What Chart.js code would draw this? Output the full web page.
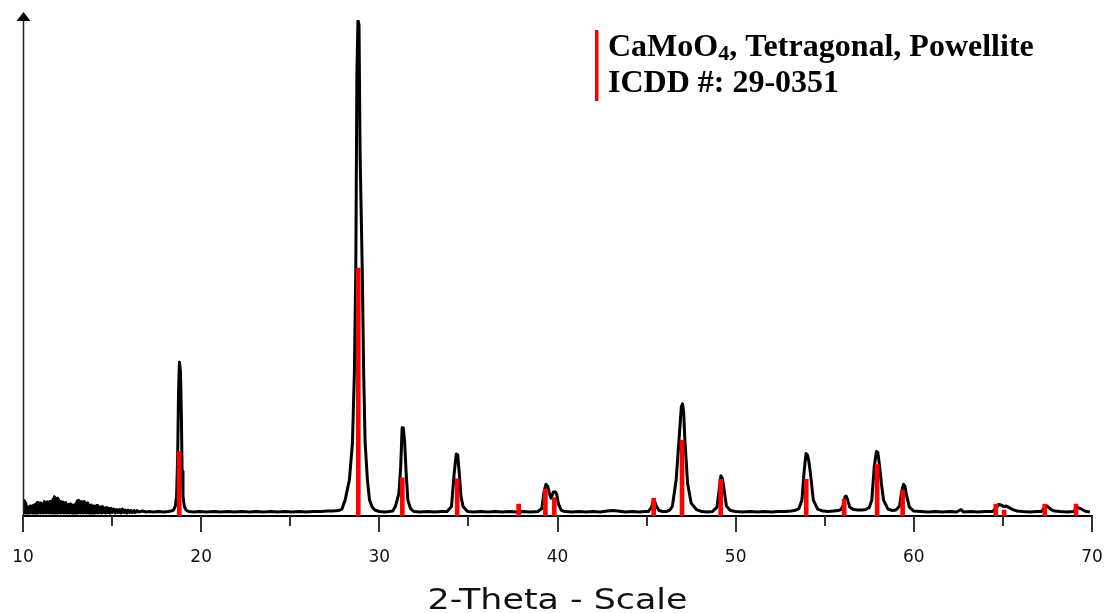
<!DOCTYPE html>
<html>
<head>
<meta charset="utf-8">
<title>CaMoO4 XRD pattern</title>
<script src="https://cdn.jsdelivr.net/npm/chart.js@4.4.1/dist/chart.umd.min.js"></script>
<style>
  html, body { margin: 0; padding: 0; background: #ffffff; overflow: hidden; }
  #wrap { width: 1106px; height: 613px; position: relative; }
</style>
</head>
<body>
<div id="wrap"><canvas id="xrd"></canvas></div>
<script>
// Measured diffraction scan: [2-theta (deg), relative intensity (%)]
const scanPoints = [
  [10.00,3.0],[10.04,0.7],[10.08,3.1],[10.12,0.6],[10.16,2.6],[10.20,0.7],[10.24,1.8],[10.28,0.6],
  [10.32,1.6],[10.36,0.6],[10.40,2.0],[10.44,0.7],[10.48,1.5],[10.52,0.6],[10.56,2.1],[10.60,0.7],[10.64,2.2],[10.68,0.6],
  [10.72,2.4],[10.76,0.7],[10.80,2.7],[10.84,0.6],[10.88,2.3],[10.92,0.7],[10.96,2.6],[11.00,0.6],[11.04,2.5],[11.08,0.7],[11.12,2.2],
  [11.16,0.6],[11.20,2.9],[11.24,0.7],[11.28,2.4],[11.32,0.6],[11.36,2.8],[11.40,0.7],[11.44,2.6],[11.48,0.6],[11.52,2.9],[11.56,0.7],[11.60,2.2],
  [11.64,0.6],[11.68,3.4],[11.72,0.7],[11.76,3.9],[11.80,0.6],[11.84,3.5],
  [11.88,0.7],[11.92,3.6],[11.96,0.6],[12.00,3.3],[12.04,0.7],[12.08,2.9],[12.12,0.6],
  [12.16,2.4],[12.20,0.7],[12.24,2.8],[12.28,0.6],[12.32,2.5],[12.36,0.7],[12.40,2.7],[12.44,0.6],[12.48,2.2],
  [12.52,0.7],[12.56,2.3],[12.60,0.6],[12.64,2.4],[12.68,0.7],[12.72,2.0],[12.76,0.6],[12.80,2.2],
  [12.84,0.7],[12.88,2.1],[12.92,0.6],[12.96,2.5],[13.00,0.7],[13.04,3.0],[13.08,0.6],[13.12,3.2],[13.16,0.7],[13.20,2.8],[13.24,0.6],[13.28,2.9],
  [13.32,0.7],[13.36,2.7],[13.40,0.6],[13.44,2.9],[13.48,0.7],[13.52,2.4],[13.56,0.6],[13.60,2.6],[13.64,0.7],[13.68,2.2],
  [13.72,0.6],[13.76,2.1],[13.80,0.7],[13.84,2.2],[13.88,0.6],[13.92,1.9],[13.96,0.7],[14.00,2.0],[14.04,0.6],[14.08,1.8],
  [14.12,0.7],[14.16,2.1],[14.20,0.6],[14.24,1.7],[14.28,0.7],
  [14.34,1.8],[14.40,0.6],[14.46,1.9],[14.52,0.7],[14.58,1.6],[14.64,0.6],[14.70,1.7],[14.76,0.7],[14.82,1.5],[14.88,0.6],
  [14.95,1.5],[15.02,0.7],[15.10,1.4],[15.18,0.6],[15.26,1.3],[15.34,0.7],[15.42,1.3],[15.50,0.6],[15.58,1.4],[15.66,0.7],
  [15.74,1.2],[15.82,0.6],[15.90,1.2],[15.98,0.7],[16.06,1.1],[16.14,0.7],[16.22,1.1],[16.30,0.7],[16.40,1.1],[16.50,0.8],
  [16.70,1.0],[16.90,0.8],[17.10,0.9],
  [17.30,0.8],[17.60,0.9],[17.90,0.8],[18.15,0.9],[18.30,1.0],
  [18.45,1.2],[18.55,2.0],[18.62,4.0],[18.68,12],[18.73,25],[18.78,31],[18.84,29],[18.89,20],[18.93,9],[18.98,4],[19.05,2.0],[19.15,1.2],[19.30,0.9],
  [19.60,0.8],[19.90,0.9],[20.30,0.8],[20.70,0.9],[21.10,0.8],[21.50,0.9],[21.90,0.8],[22.30,0.9],[22.70,0.8],[23.10,0.9],
  [23.50,0.8],[23.90,0.9],[24.30,0.8],[24.70,0.9],[25.10,0.8],[25.50,0.9],[25.90,0.8],[26.30,0.9],[26.70,0.9],[27.10,1.0],
  [27.40,1.0],[27.70,1.1],[27.90,1.4],[28.08,3.2],[28.32,7.3],[28.49,14.7],[28.60,28.8],[28.68,50],[28.74,89],[28.80,100],
  [28.86,99],[28.92,73],[29.04,50],[29.12,29],[29.20,15],[29.33,7.3],[29.45,3.2],[29.60,1.8],[29.75,1.2],[30.00,0.9],
  [30.30,0.8],[30.55,0.9],
  [30.75,1.0],[30.90,1.9],[31.10,4.6],[31.20,10],[31.28,17.8],[31.34,17.8],[31.42,15],[31.50,9],[31.60,3.2],[31.75,1.5],[31.95,0.9],
  [32.30,0.8],[32.70,0.9],[33.10,0.8],[33.50,0.9],[33.80,0.9],
  [34.05,1.9],[34.20,8.6],[34.32,12.5],[34.40,12.3],[34.50,8],[34.58,4],[34.70,1.9],[34.95,0.9],
  [35.30,0.8],[35.70,0.9],[36.10,0.8],[36.50,0.9],[36.90,0.8],[37.30,0.9],[37.70,0.8],[38.10,0.9],[38.50,0.8],[38.90,0.9],
  [39.12,1.5],[39.25,5],[39.35,6.4],[39.45,6.0],[39.55,4.5],[39.64,3.6],[39.76,4.8],[39.86,4.9],[39.95,4.5],[40.05,2.5],[40.20,1.2],[40.40,0.9],
  [40.80,0.8],[41.20,0.9],[41.60,0.8],[42.00,0.9],[42.40,0.8],[42.80,1.0],[43.10,1.1],[43.40,1.0],[43.80,0.8],[44.20,0.9],[44.60,0.8],[44.90,0.9],
  [45.10,0.9],[45.28,1.8],[45.38,3.1],[45.45,2.9],[45.55,2.0],[45.70,1.1],[45.90,0.9],[46.10,0.9],
  [46.30,1.2],[46.45,2.0],[46.66,7.3],[46.82,15.3],[46.95,22],[47.02,22.6],[47.08,21],[47.14,16],[47.30,6.6],[47.50,2.6],[47.80,1.3],
  [48.10,0.9],[48.40,0.8],[48.70,0.9],
  [48.95,1.8],[49.08,5.5],[49.17,8.1],[49.25,7.6],[49.35,5.4],[49.48,2.0],[49.70,1.1],[50.00,0.9],
  [50.40,0.8],[50.80,0.9],[51.20,0.8],[51.60,0.9],[52.00,0.8],[52.40,0.9],[52.80,0.9],[53.10,1.0],
  [53.30,1.1],[53.55,1.5],[53.72,3.2],[53.85,9.3],[53.95,12.6],[54.03,12.3],[54.10,11.2],[54.20,8.5],[54.36,3.2],[54.60,1.4],[54.90,1.0],
  [55.20,0.9],[55.50,1.0],[55.75,1.1],
  [55.90,1.3],[56.02,2.0],[56.14,3.9],[56.20,4.0],[56.28,3.3],[56.40,1.8],[56.60,1.3],[56.85,1.2],[57.10,1.2],
  [57.30,1.3],[57.50,1.7],[57.64,3.2],[57.78,10],[57.90,13.0],[57.98,12.8],[58.08,10],[58.18,6.5],[58.30,3.2],[58.55,1.4],[58.80,1.1],
  [59.00,1.2],[59.20,2.0],[59.32,5],[59.42,6.4],[59.50,6.0],[59.60,4.0],[59.75,1.8],[60.00,1.0],
  [60.40,0.9],[60.80,0.8],[61.20,0.9],[61.60,0.8],[62.00,0.9],[62.40,0.8],[62.65,1.3],[62.80,0.8],[63.20,0.9],[63.60,0.8],[64.00,0.9],[64.40,0.9],
  [64.60,1.5],[64.75,2.3],[64.90,2.2],[65.05,1.9],[65.20,2.0],[65.35,1.7],[65.55,1.3],[65.80,1.0],
  [66.10,0.9],[66.50,0.8],[66.90,0.9],[67.15,0.9],
  [67.30,1.5],[67.42,2.1],[67.55,1.8],[67.70,1.3],[67.90,1.0],[68.20,0.9],[68.60,0.8],[68.95,0.9],
  [69.10,1.4],[69.20,1.7],[69.35,1.5],[69.50,1.2],[69.70,0.9],[69.88,0.8]
];

// ICDD 29-0351 reference lines (Powellite)
const refPositions   = [18.77, 28.82, 31.29, 34.37, 37.82, 39.32, 39.82, 45.40, 46.99, 49.16, 53.96, 56.09, 57.94, 59.37, 64.60, 65.07, 67.35, 69.10];
const refIntensities = [13.0,  50.0,  7.7,   7.5,   2.4,   5.4,   3.7,   3.6,   15.3,  7.4,   7.4,   3.4,   10.4,  5.2,   2.4,   1.2,   2.4,   2.4];

const xMin = 10, xMax = 70, xMajorStep = 10;
const majorTickValues = [10, 20, 30, 40, 50, 60, 70];
const minorTickValues = [15, 25, 35, 45, 55, 65];
const axisTitle = '2-Theta - Scale';
const phaseLine1 = ['CaMoO', '4', ', Tetragonal, Powellite'];
const phaseLine2 = 'ICDD #: 29-0351';

// Axis furniture: tick marks, arrowed intensity axis, axis title, phase key
const furniture = {
  id: 'furniture',
  afterDraw(chart) {
    const { ctx, chartArea: a, scales: { x } } = chart;
    ctx.save();

    // tick marks (long at labelled values, short in between)
    ctx.strokeStyle = '#333';
    ctx.lineWidth = 2;
    const tick = (v, len) => {
      const px = Math.round(x.getPixelForValue(v));
      ctx.beginPath();
      ctx.moveTo(px, a.bottom);
      ctx.lineTo(px, a.bottom + len);
      ctx.stroke();
    };
    majorTickValues.forEach(v => tick(v, 16));
    minorTickValues.forEach(v => tick(v, 10));

    // intensity axis with arrow head
    const yx = Math.round(a.left) + 0.5;
    ctx.strokeStyle = '#222';
    ctx.lineWidth = 1.5;
    ctx.beginPath();
    ctx.moveTo(yx, a.bottom);
    ctx.lineTo(yx, a.top - 2);
    ctx.stroke();
    ctx.fillStyle = '#000';
    ctx.beginPath();
    ctx.moveTo(yx, a.top - 8);
    ctx.lineTo(yx - 7, a.top + 1);
    ctx.lineTo(yx + 7, a.top + 1);
    ctx.closePath();
    ctx.fill();

    // axis title
    ctx.font = '29px "DejaVu Sans"';
    ctx.fillStyle = '#111';
    ctx.textBaseline = 'alphabetic';
    ctx.textAlign = 'left';
    const tw = ctx.measureText(axisTitle).width;
    const sx = 260 / tw;
    const cx = (a.left + a.right) / 2;
    ctx.save();
    ctx.translate(cx - 130, 609);
    ctx.scale(sx, 1);
    ctx.fillText(axisTitle, 0, 0);
    ctx.restore();

    // phase key
    ctx.fillStyle = '#ff0000';
    ctx.fillRect(595, 30, 3.5, 71);
    ctx.fillStyle = '#000';
    const big = 'bold 32px "Liberation Serif"';
    const small = 'bold 22px "Liberation Serif"';
    let tx = 608;
    ctx.font = big;
    ctx.fillText(phaseLine1[0], tx, 56);
    tx += ctx.measureText(phaseLine1[0]).width;
    ctx.font = small;
    ctx.fillText(phaseLine1[1], tx, 60);
    tx += ctx.measureText(phaseLine1[1]).width;
    ctx.font = big;
    ctx.fillText(phaseLine1[2], tx, 56);
    ctx.fillText(phaseLine2, 608, 92);

    ctx.restore();
  }
};

new Chart(document.getElementById('xrd'), {
  type: 'line',
  data: {
    datasets: [
      {
        type: 'bar',
        label: 'ICDD 29-0351',
        data: refPositions.map((p, i) => ({ x: p, y: refIntensities[i] })),
        backgroundColor: '#ff0000',
        borderWidth: 0,
        barThickness: 4,
        order: 0
      },
      {
        type: 'line',
        label: 'Scan',
        data: scanPoints.map(p => ({ x: p[0], y: p[1] })),
        borderColor: '#000000',
        borderWidth: 3,
        borderJoinStyle: 'round',
        pointRadius: 0,
        tension: 0,
        fill: false,
        order: 1
      }
    ]
  },
  options: {
    responsive: true,
    maintainAspectRatio: false,
    animation: false,
    events: [],
    layout: { padding: { left: 23, right: 14, top: 20, bottom: 0 } },
    plugins: { legend: { display: false }, tooltip: { enabled: false }, title: { display: false } },
    scales: {
      x: {
        type: 'linear',
        min: xMin,
        max: xMax,
        offset: false,
        afterFit(scale) {
          scale.height = 97;
          scale.paddingLeft = 0;
          scale.paddingRight = 0;
        },
        border: { display: true, color: '#000', width: 2 },
        grid: { display: true, drawOnChartArea: false, drawTicks: true, tickLength: 16, color: 'rgba(0,0,0,0)' },
        ticks: {
          stepSize: xMajorStep,
          autoSkip: false,
          maxRotation: 0,
          padding: 15,
          color: '#111',
          font: { family: '"DejaVu Sans"', size: 17 }
        }
      },
      y: {
        display: false,
        min: 0,
        max: 100
      }
    }
  },
  plugins: [furniture]
});
</script>
</body>
</html>
